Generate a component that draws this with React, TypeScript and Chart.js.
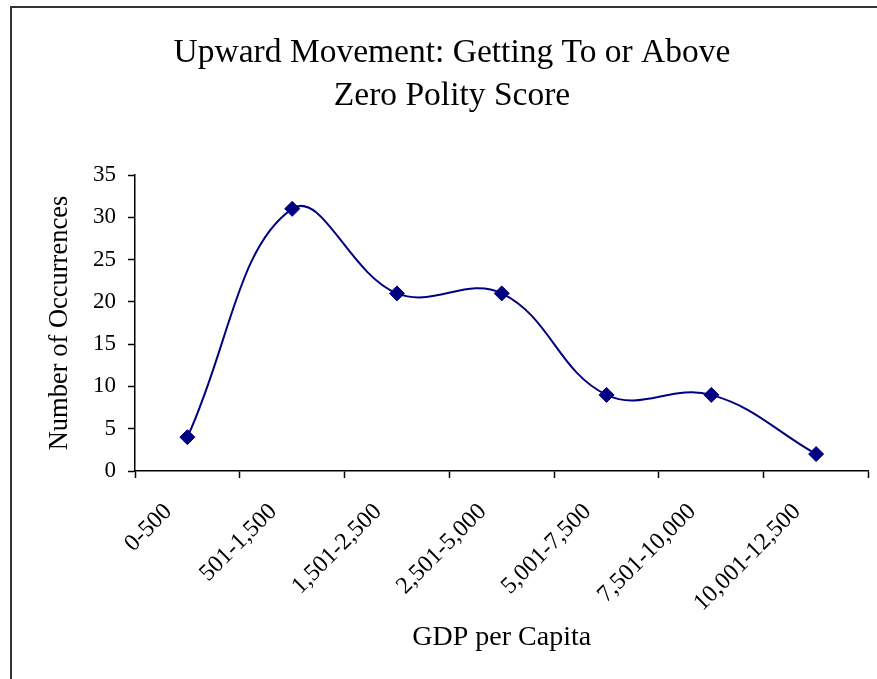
import React, { useEffect, useRef } from "react";
import { Chart, registerables } from "chart.js";

Chart.register(...registerables);

const categories: string[] = [
  "0-500",
  "501-1,500",
  "1,501-2,500",
  "2,501-5,000",
  "5,001-7,500",
  "7,501-10,000",
  "10,001-12,500",
];
const occurrences: number[] = [4, 31, 21, 21, 9, 9, 2];
const titleLines: string[] = ["Upward Movement: Getting To or Above", "Zero Polity Score"];
const xTitle = "GDP per Capita";
const yTitle = "Number of Occurrences";
const yMin = 0;
const yMax = 35;
const yStep = 5;

const FONT = "'Liberation Serif', 'Times New Roman', serif";

export default function App() {
  const ref = useRef<HTMLCanvasElement | null>(null);

  useEffect(() => {
    if (!ref.current) return;

    const framePlugin = {
      id: "framePlugin",
      beforeDraw(chart: any) {
        const ctx = chart.ctx;
        ctx.save();
        ctx.fillStyle = "#ffffff";
        ctx.fillRect(0, 0, chart.width, chart.height);
        ctx.strokeStyle = "#333333";
        ctx.lineWidth = 2;
        ctx.beginPath();
        ctx.moveTo(11, chart.height);
        ctx.lineTo(11, 7);
        ctx.lineTo(chart.width, 7);
        ctx.stroke();
        ctx.restore();
      },
      afterDraw(chart: any) {
        const ctx = chart.ctx;
        ctx.save();
        ctx.fillStyle = "#000000";
        ctx.font = `33.5px ${FONT}`;
        ctx.textAlign = "center";
        ctx.textBaseline = "alphabetic";
        titleLines.forEach((t, i) => {
          ctx.fillText(t, 452, 62 + i * 43);
        });
        ctx.restore();
      },
    };

    const chart = new Chart(ref.current, {
      type: "line",
      data: {
        labels: categories,
        datasets: [
          {
            data: occurrences,
            borderColor: "#000080",
            backgroundColor: "#000080",
            borderWidth: 2,
            tension: 0.4,
            pointStyle: "rectRot",
            pointRadius: 7.5,
            pointBorderWidth: 1,
            pointBorderColor: "#000080",
            pointBackgroundColor: "#000080",
            fill: false,
          },
        ],
      },
      options: {
        animation: false,
        responsive: false,
        devicePixelRatio: 1,
        layout: { padding: { top: 175, right: 7, left: 0, bottom: 0 } },
        plugins: {
          legend: { display: false },
          title: { display: false },
          tooltip: { enabled: false },
        },
        scales: {
          x: {
            type: "category",
            offset: true,
            afterFit(scale: any) {
              scale.height = 208;
            },
            grid: {
              offset: true,
              drawOnChartArea: false,
              tickLength: 7,
              color: "#000000",
              tickColor: "#000000",
              tickWidth: 1.5,
            },
            border: { color: "#000000", width: 1.5 },
            ticks: {
              color: "#000000",
              font: { family: FONT, size: 24 },
              maxRotation: 45,
              minRotation: 45,
              autoSkip: false,
              padding: 20,
              labelOffset: -19,
            },
            title: {
              display: true,
              text: xTitle,
              color: "#000000",
              font: { family: FONT, size: 28 },
              padding: { top: 0, bottom: 25 },
            },
          },
          y: {
            min: yMin,
            max: yMax,
            afterFit(scale: any) {
              scale.width = 135;
            },
            grid: {
              drawOnChartArea: false,
              tickLength: 7,
              color: "#000000",
              tickColor: "#000000",
              tickWidth: 1.5,
            },
            border: { color: "#000000", width: 1.5 },
            ticks: {
              stepSize: yStep,
              color: "#000000",
              font: { family: FONT, size: 23 },
              padding: 12,
            },
            title: {
              display: true,
              text: yTitle,
              color: "#000000",
              font: { family: FONT, size: 26.5 },
              padding: { top: 44, bottom: 0 },
            },
          },
        },
      },
      plugins: [framePlugin],
    });

    return () => chart.destroy();
  }, []);

  return (
    <div style={{ position: "absolute", left: 0, top: 0, width: 877, height: 679, background: "#fff" }}>
      <canvas ref={ref} width={877} height={679} style={{ width: 877, height: 679, display: "block" }} />
    </div>
  );
}
